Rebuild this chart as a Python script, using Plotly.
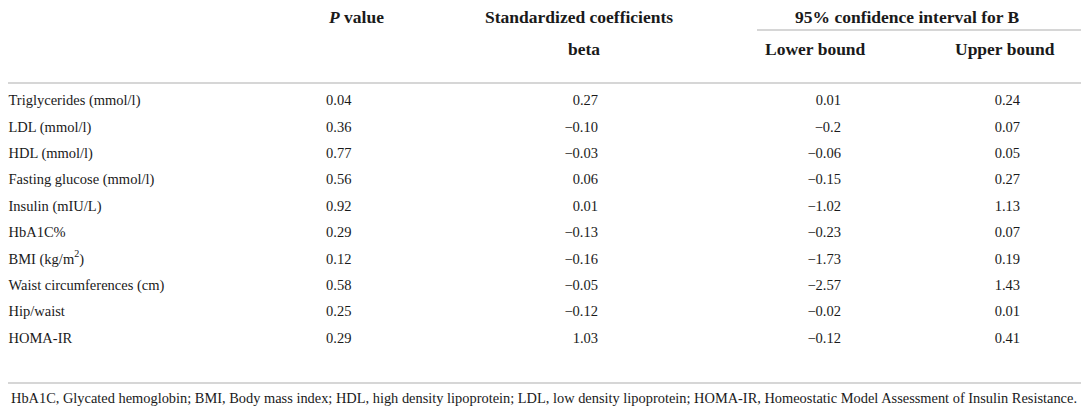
import plotly.graph_objects as go

variables = ["Triglycerides (mmol/l)", "LDL (mmol/l)", "HDL (mmol/l)",
             "Fasting glucose (mmol/l)", "Insulin (mIU/L)", "HbA1C%",
             "BMI (kg/m<sup>2</sup>)", "Waist circumferences (cm)", "Hip/waist",
             "HOMA-IR"]
p_value = ["0.04", "0.36", "0.77", "0.56", "0.92", "0.29", "0.12", "0.58", "0.25", "0.29"]
beta = ["0.27", "−0.10", "−0.03", "0.06", "0.01", "−0.13", "−0.16", "−0.05", "−0.12", "1.03"]
lower_bound = ["0.01", "−0.2", "−0.06", "−0.15", "−1.02", "−0.23", "−1.73", "−2.57", "−0.02", "−0.12"]
upper_bound = ["0.24", "0.07", "0.05", "0.27", "1.13", "0.07", "0.19", "1.43", "0.01", "0.41"]

footnote = ("HbA1C, Glycated hemoglobin; BMI, Body mass index; HDL, high density lipoprotein; "
            "LDL, low density lipoprotein; HOMA-IR, Homeostatic Model Assessment of Insulin Resistance.")

W, H = 1089, 412
off = 8  # the page body has an 8px margin, so shift the axes to compensate
font = "Liberation Serif"
ink = "#1a1a1a"
rule = "#c8c8c8"

row_y0 = 101.5
row_dy = 26.4
rows = [row_y0 + i * row_dy for i in range(len(variables))]

fig = go.Figure()

# body columns: (values, x, textposition)
cols = [
    (variables, off + 0.5, "middle right"),
    (p_value, 326, "middle right"),
    (beta, 598, "middle left"),
    (lower_bound, 841, "middle left"),
    (upper_bound, 1020, "middle left"),
]
for vals, x, pos in cols:
    fig.add_trace(go.Scatter(
        x=[x] * len(vals), y=rows, text=vals, mode="text",
        textposition=pos, hoverinfo="skip", cliponaxis=False,
        textfont=dict(family=font, size=14.5, color=ink),
    ))

headers = [
    ("<b><i>P</i> value</b>", 326, 17, "left"),
    ("<b>Standardized coefficients</b>", 579, 17, "center"),
    ("<b>95% confidence interval for B</b>", 907, 17, "center"),
    ("<b>beta</b>", 584, 49, "center"),
    ("<b>Lower bound</b>", 815, 49, "center"),
    ("<b>Upper bound</b>", 1005, 49, "center"),
]
for txt, x, y, anchor in headers:
    fig.add_annotation(x=x, y=y, text=txt, showarrow=False, xanchor=anchor,
                       yanchor="middle", font=dict(family=font, size=17.5, color=ink))

fig.add_annotation(x=off + 0.5, y=398, text=footnote, showarrow=False, xanchor="left",
                   yanchor="middle", font=dict(family=font, size=14.4, color=ink))

fig.add_shape(type="line", x0=757, x1=W + off, y0=30, y1=30, line=dict(color=rule, width=1.5))
fig.add_shape(type="line", x0=0, x1=W + off, y0=83, y1=83, line=dict(color=rule, width=1.5))
fig.add_shape(type="line", x0=0, x1=W + off, y0=383, y1=383, line=dict(color=rule, width=1.5))

fig.update_layout(
    width=W, height=H, margin=dict(l=0, r=0, t=0, b=0),
    paper_bgcolor="white", plot_bgcolor="white", showlegend=False,
    xaxis=dict(range=[off, W + off], visible=False, fixedrange=True),
    yaxis=dict(range=[H + off, off], visible=False, fixedrange=True),
)

fig.write_html("out.html")
